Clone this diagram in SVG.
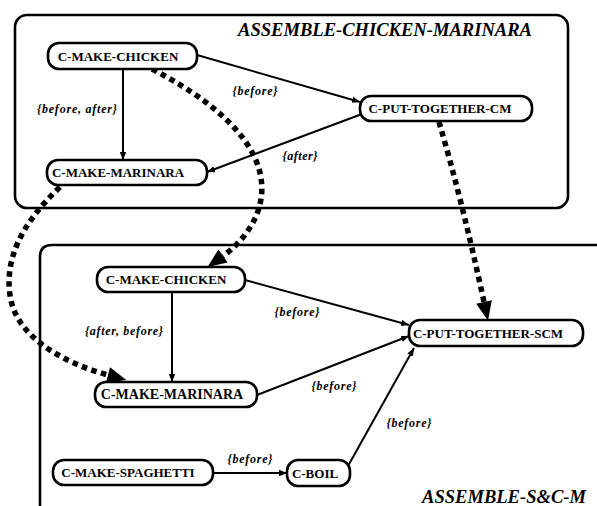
<svg xmlns="http://www.w3.org/2000/svg" width="597" height="506" viewBox="0 0 597 506" font-family="'Liberation Serif', 'DejaVu Serif', serif">
  <style>
    .frame { fill: none; stroke: #000; stroke-width: 2.6; }
    .node rect { fill: #fff; stroke: #000; stroke-width: 2.6; }
    .node text { font-weight: bold; font-size: 13px; text-anchor: middle; fill: #000; }
    .title { font-weight: bold; font-style: italic; font-size: 18.5px; fill: #000; }
    .lbl { font-weight: bold; font-style: italic; font-size: 12px; text-anchor: middle; fill: #000; }
    .edge { fill: none; stroke: #000; stroke-width: 2; marker-end: url(#arrow); }
    .link { fill: none; stroke: #000; stroke-width: 5.5; stroke-dasharray: 5.5 4.5; marker-end: url(#bigArrow); }
  </style>
  <defs>
    <marker id="arrow" markerUnits="userSpaceOnUse" markerWidth="9" markerHeight="8" refX="8" refY="4" orient="auto">
      <path d="M0,0.8 L8,4 L0,7.2 z" fill="#000"/>
    </marker>
    <marker id="bigArrow" markerUnits="userSpaceOnUse" markerWidth="20" markerHeight="18" refX="0" refY="9" orient="auto" overflow="visible">
      <path d="M0,1 L19,9 L0,17 z" fill="#000"/>
    </marker>
  </defs>

  <!-- plan frames -->
  <g id="frame-assemble-chicken-marinara">
    <rect class="frame" x="15" y="15" width="553" height="193" rx="12"/>
    <text class="title" x="238" y="36" textLength="294" lengthAdjust="spacingAndGlyphs">ASSEMBLE-CHICKEN-MARINARA</text>
  </g>
  <g id="frame-assemble-sc-m">
    <path class="frame" d="M40,506 V257 Q40,245 52,245 H597"/>
    <text class="title" x="422" y="503" textLength="164" lengthAdjust="spacingAndGlyphs">ASSEMBLE-S&amp;C-M</text>
  </g>

  <!-- connectors -->
  <g id="connectors">
    <!-- ordering constraints in the upper plan -->
    <path class="edge" d="M123,69 L123,160"/>
    <path class="edge" d="M197,55 L360,102"/>
    <path class="edge" d="M362,114 L207,172"/>
    <!-- ordering constraints in the lower plan -->
    <path class="edge" d="M172,292 L172,382"/>
    <path class="edge" d="M245,280 L409,325"/>
    <path class="edge" d="M257,395 L409,336"/>
    <path class="edge" d="M348,466 L414,348"/>
    <path class="edge" d="M213,473 L287,473"/>
    <!-- correspondences between the plans -->
    <path class="link" d="M152,69 C315,154 258,231 223,256"/>
    <path class="link" d="M60,187 C20,225 5,260 10,295 C15,335 60,362 108,375"/>
    <path class="link" d="M439,122 Q462,200 484,302"/>
    <!-- edge labels -->
    <text class="lbl" x="77" y="113" textLength="80">{before, after}</text>
    <text class="lbl" x="255" y="95" textLength="45">{before}</text>
    <text class="lbl" x="300" y="160" textLength="35">{after}</text>
    <text class="lbl" x="124" y="335" textLength="78">{after, before}</text>
    <text class="lbl" x="297" y="316" textLength="45">{before}</text>
    <text class="lbl" x="334" y="390" textLength="45">{before}</text>
    <text class="lbl" x="409" y="427" textLength="45">{before}</text>
    <text class="lbl" x="250" y="463" textLength="45">{before}</text>
  </g>

  <!-- upper plan nodes -->
  <g id="c-make-chicken-1" class="node">
    <rect x="48" y="43" width="149" height="26" rx="11"/>
    <text x="118" y="60.5">C-MAKE-CHICKEN</text>
  </g>
  <g id="c-make-marinara-1" class="node">
    <rect x="47" y="160" width="160" height="25" rx="11"/>
    <text x="118" y="177">C-MAKE-MARINARA</text>
  </g>
  <g id="c-put-together-cm" class="node">
    <rect x="360" y="96" width="172" height="25" rx="11"/>
    <text x="440" y="113">C-PUT-TOGETHER-CM</text>
  </g>

  <!-- lower plan nodes -->
  <g id="c-make-chicken-2" class="node">
    <rect x="97" y="267" width="148" height="25" rx="11"/>
    <text x="166" y="284">C-MAKE-CHICKEN</text>
  </g>
  <g id="c-make-marinara-2" class="node">
    <rect x="95" y="382" width="162" height="25" rx="11"/>
    <text x="172" y="399" style="font-size:14px">C-MAKE-MARINARA</text>
  </g>
  <g id="c-put-together-scm" class="node">
    <rect x="409" y="320" width="174" height="26" rx="11"/>
    <text x="488" y="337.5">C-PUT-TOGETHER-SCM</text>
  </g>
  <g id="c-make-spaghetti" class="node">
    <rect x="53" y="460" width="160" height="25" rx="11"/>
    <text x="128" y="477">C-MAKE-SPAGHETTI</text>
  </g>
  <g id="c-boil" class="node">
    <rect x="287" y="460" width="63" height="26" rx="11"/>
    <text x="315" y="477.5">C-BOIL</text>
  </g>
</svg>
